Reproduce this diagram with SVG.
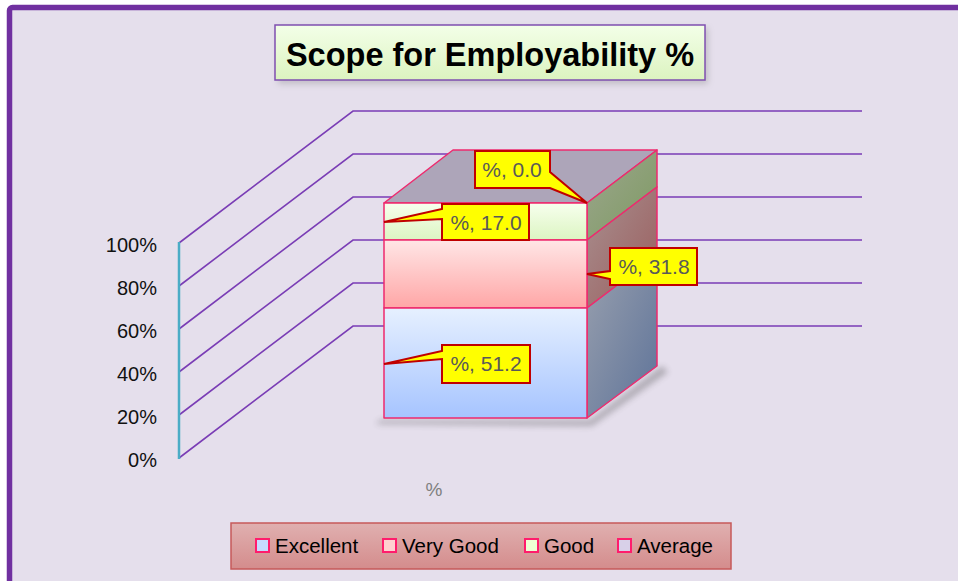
<svg xmlns="http://www.w3.org/2000/svg" width="958" height="581" viewBox="0 0 958 581">
  <defs>
    <style>
      .grid { stroke: #7A3DB5; stroke-width: 1.6; fill: none; }
      .axis { stroke: #4BACC6; stroke-width: 2.5; fill: none; }
      .tick { font-family: "Liberation Sans", Arial, sans-serif; font-size: 20px; fill: #111; text-anchor: end; }
      .edge { stroke: #EE2A6E; stroke-width: 1.5; stroke-linejoin: round; }
      .callout { fill: #FFFF00; stroke: #C00000; stroke-width: 2; stroke-linejoin: miter; }
      .dl { font-family: "Liberation Sans", Arial, sans-serif; font-size: 21px; fill: #595959; text-anchor: middle; }
      .leg { font-family: "Liberation Sans", Arial, sans-serif; font-size: 20.5px; fill: #000; }
      .sw { stroke: #FF1C6C; stroke-width: 2; }
    </style>
    <linearGradient id="gTitle" x1="0" y1="0" x2="0" y2="1">
      <stop offset="0" stop-color="#F3FFE8"/>
      <stop offset="1" stop-color="#DCF3C0"/>
    </linearGradient>
    <linearGradient id="gGood" x1="0" y1="0" x2="0" y2="1">
      <stop offset="0" stop-color="#F7FFEE"/>
      <stop offset="1" stop-color="#DCF5C2"/>
    </linearGradient>
    <linearGradient id="gVG" x1="0" y1="0" x2="0" y2="1">
      <stop offset="0" stop-color="#FFE6E6"/>
      <stop offset="1" stop-color="#FFA6A6"/>
    </linearGradient>
    <linearGradient id="gEx" x1="0" y1="0" x2="0" y2="1">
      <stop offset="0" stop-color="#E6F0FF"/>
      <stop offset="1" stop-color="#A6C4FF"/>
    </linearGradient>
    <linearGradient id="gSideGood" x1="0" y1="0" x2="1" y2="1">
      <stop offset="0" stop-color="#9CA68E"/>
      <stop offset="1" stop-color="#7E9A62"/>
    </linearGradient>
    <linearGradient id="gSideVG" x1="0" y1="0" x2="1" y2="1">
      <stop offset="0" stop-color="#A89090"/>
      <stop offset="1" stop-color="#9A5C5C"/>
    </linearGradient>
    <linearGradient id="gSideEx" x1="0" y1="0" x2="1" y2="1">
      <stop offset="0" stop-color="#99A0AE"/>
      <stop offset="1" stop-color="#5E7399"/>
    </linearGradient>
    <linearGradient id="gLegend" x1="0" y1="0" x2="0" y2="1">
      <stop offset="0" stop-color="#E0B0B0"/>
      <stop offset="1" stop-color="#D48C8C"/>
    </linearGradient>
    <filter id="blur" x="-20%" y="-20%" width="140%" height="140%">
      <feGaussianBlur stdDeviation="3"/>
    </filter>
  </defs>

  <!-- background & frame -->
  <rect x="0" y="0" width="958" height="581" fill="#FFFFFF"/>
  <rect x="9.5" y="7.5" width="960" height="600" rx="3" fill="#E5DFEC" stroke="#7030A0" stroke-width="5.5"/>

  <!-- title -->
  <g id="title">
    <rect x="278" y="28" width="430" height="56" fill="#7F7F7F" opacity="0.35" filter="url(#blur)"/>
    <rect x="275" y="25" width="430" height="55" fill="url(#gTitle)" stroke="#7F4FB0" stroke-width="1.5"/>
    <text x="490" y="66" text-anchor="middle" font-family="'Liberation Sans', Arial, sans-serif" font-size="32.5" font-weight="bold" fill="#000">Scope for Employability %</text>
  </g>

  <!-- gridlines -->
  <g id="gridlines">
    <path class="grid" d="M179,243 L353,111 H862"/>
    <path class="grid" d="M179,286 L353,154 H862"/>
    <path class="grid" d="M179,329 L353,197 H862"/>
    <path class="grid" d="M179,372 L353,240 H862"/>
    <path class="grid" d="M179,415 L353,283 H862"/>
    <path class="grid" d="M179,458 L353,326 H862"/>
  </g>

  <!-- value axis -->
  <g id="axis">
    <line class="axis" x1="179" y1="242" x2="179" y2="459"/>
    <text class="tick" x="157" y="252">100%</text>
    <text class="tick" x="157" y="295">80%</text>
    <text class="tick" x="157" y="338">60%</text>
    <text class="tick" x="157" y="381">40%</text>
    <text class="tick" x="157" y="424">20%</text>
    <text class="tick" x="157" y="467">0%</text>
    <text x="434" y="496" text-anchor="middle" font-family="'Liberation Sans', Arial, sans-serif" font-size="19" fill="#7F7F7F">%</text>
  </g>

  <!-- stacked 3D bar -->
  <g id="bar">
    <polygon points="380,420 590,420 662,366 668,372 592,426 376,424" fill="#333" opacity="0.3" filter="url(#blur)"/>
    <polygon class="edge" points="384,203 453,150 657,150 587,203" fill="#ADA5B9"/>
    <polygon class="edge" points="587,203 657,150 657,187 587,240" fill="url(#gSideGood)"/>
    <polygon class="edge" points="587,240 657,187 657,255 587,308" fill="url(#gSideVG)"/>
    <polygon class="edge" points="587,308 657,255 657,366 587,418" fill="url(#gSideEx)"/>
    <rect class="edge" x="384" y="203" width="203" height="37" fill="url(#gGood)"/>
    <rect class="edge" x="384" y="240" width="203" height="68" fill="url(#gVG)"/>
    <rect class="edge" x="384" y="308" width="203" height="110" fill="url(#gEx)"/>
  </g>

  <!-- data labels -->
  <g id="label-average">
    <path class="callout" d="M475,151 H550 V172 L587,203 L550,188 H475 Z"/>
    <text class="dl" x="512" y="177">%, 0.0</text>
  </g>
  <g id="label-good">
    <path class="callout" d="M442,204 H529 V240 H442 V219 L384,222 L442,209 Z"/>
    <text class="dl" x="486" y="230">%, 17.0</text>
  </g>
  <g id="label-verygood">
    <path class="callout" d="M610,248 H697 V285 H610 V279 L587,274 L610,271 Z"/>
    <text class="dl" x="654" y="274">%, 31.8</text>
  </g>
  <g id="label-excellent">
    <path class="callout" d="M442,345 H530 V383 H442 V359 L384,364 L442,351 Z"/>
    <text class="dl" x="486" y="371">%, 51.2</text>
  </g>

  <!-- legend -->
  <g id="legend">
    <rect x="231" y="523" width="500" height="46" fill="url(#gLegend)" stroke="#C65A5A" stroke-width="1.5"/>
    <rect class="sw" x="256" y="539" width="13" height="13" fill="#C6DAFF"/>
    <text class="leg" x="275" y="553">Excellent</text>
    <rect class="sw" x="383" y="539" width="13" height="13" fill="#FFD0D0"/>
    <text class="leg" x="402" y="553">Very Good</text>
    <rect class="sw" x="525" y="539" width="13" height="13" fill="#EEFFD4"/>
    <text class="leg" x="544" y="553">Good</text>
    <rect class="sw" x="618" y="539" width="13" height="13" fill="#D8D0E8"/>
    <text class="leg" x="637" y="553">Average</text>
  </g>
</svg>
